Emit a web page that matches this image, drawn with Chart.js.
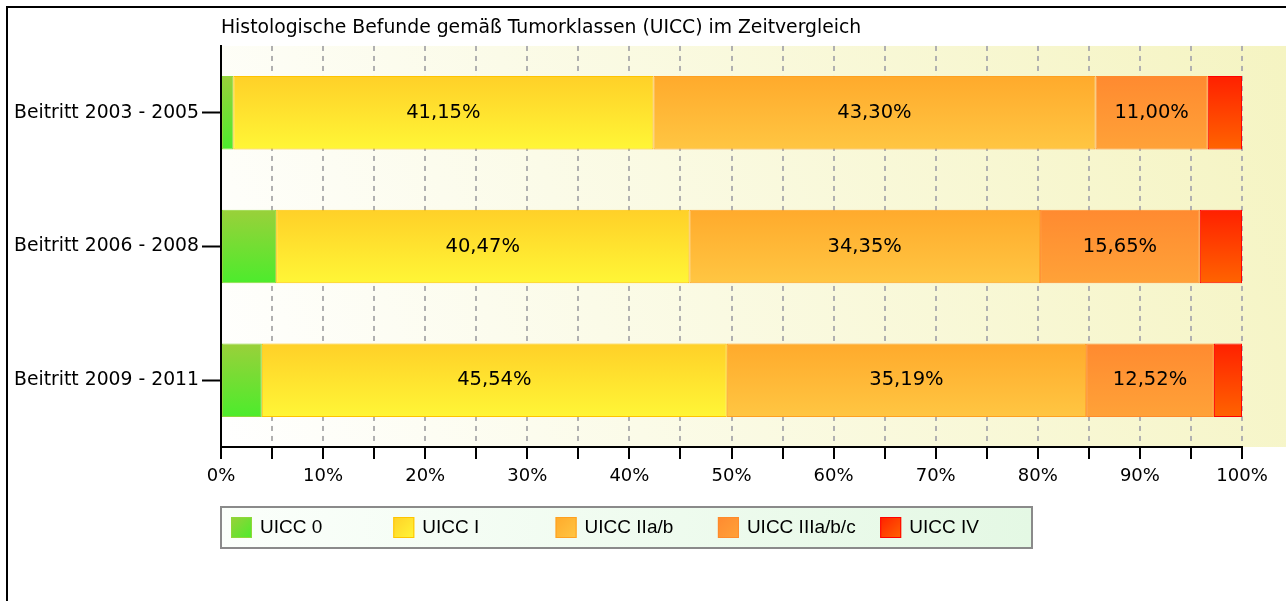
<!DOCTYPE html>
<html>
<head>
<meta charset="utf-8">
<script src="https://cdn.jsdelivr.net/npm/chart.js@4/dist/chart.umd.min.js"></script>
<style>
  html, body { margin: 0; padding: 0; background: #fff; }
  #wrap { position: relative; width: 1286px; height: 601px; overflow: hidden; }
  #frame { position: absolute; left: 6px; top: 6px; right: -10px; bottom: -10px;
           border-top: 2px solid #000; border-left: 2px solid #000; pointer-events: none; }
  canvas { display: block; }
</style>
</head>
<body>
<div id="wrap">
  <canvas id="c" width="1286" height="601"></canvas>
  <div id="frame"></div>
</div>
<script>
// ---- data ----
const titleText = 'Histologische Befunde gemäß Tumorklassen (UICC) im Zeitvergleich';
const categories = ['Beitritt 2003 - 2005', 'Beitritt 2006 - 2008', 'Beitritt 2009 - 2011'];
const seriesNames = ['UICC 0', 'UICC I', 'UICC IIa/b', 'UICC IIIa/b/c', 'UICC IV'];
const uicc0   = [1.20, 5.40, 4.00];
const uicc1   = [41.15, 40.47, 45.54];
const uicc2   = [43.30, 34.35, 35.19];
const uicc3   = [11.00, 15.65, 12.52];
const uicc4   = [3.35, 4.13, 2.75];
const xTickValues = [0, 10, 20, 30, 40, 50, 60, 70, 80, 90, 100];

// ---- styles ----
const topColors    = ['#9ad03a', '#ffd028', '#ffaa2c', '#ff8a30', '#ff2000'];
const bottomColors = ['#4cec2c', '#fff636', '#ffc642', '#ffa238', '#ff6400'];
const borderColors = ['#8fd83a', '#ffc400', '#ffa020', '#ff8a2a', '#ff0000'];
const seriesValues = [uicc0, uicc1, uicc2, uicc3, uicc4];

const BAR_PCT = 0.55;

function barGradient(ctx, i) {
  const chart = ctx.chart;
  const ys = chart.scales && chart.scales.y;
  if (!chart.chartArea || !ys || ctx.dataIndex === undefined) return topColors[i];
  const center = ys.getPixelForValue(ctx.dataIndex);
  const band = (ys.bottom - ys.top) / categories.length;
  const half = band * BAR_PCT / 2;
  const g = chart.ctx.createLinearGradient(0, center - half, 0, center + half);
  g.addColorStop(0, topColors[i]);
  g.addColorStop(1, bottomColors[i]);
  return g;
}

const datasets = seriesNames.map((name, i) => ({
  label: name,
  data: seriesValues[i],
  backgroundColor: (ctx) => barGradient(ctx, i),
  borderColor: borderColors[i],
  borderWidth: 1,
  borderSkipped: false,
  barPercentage: BAR_PCT,
  categoryPercentage: 1.0
}));

const fmt = v => v.toFixed(2).replace('.', ',') + '%';

const bgPlugin = {
  id: 'plotBg',
  beforeDraw(chart) {
    const a = chart.chartArea; const c = chart.ctx;
    const g = c.createLinearGradient(a.left, a.bottom, chart.width, a.top);
    g.addColorStop(0, '#ffffff');
    g.addColorStop(0.35, '#fbfbe8');
    g.addColorStop(1, '#f5f4c2');
    c.save();
    c.fillStyle = g;
    c.fillRect(a.left, a.top, chart.width - a.left, a.bottom - a.top);
    c.restore();
  }
};

const labelPlugin = {
  id: 'valueLabels',
  afterDatasetsDraw(chart) {
    const c = chart.ctx;
    c.save();
    c.font = '19.5px "DejaVu Sans"';
    c.fillStyle = '#000';
    c.textAlign = 'center';
    c.textBaseline = 'middle';
    chart.data.datasets.forEach((ds, di) => {
      const meta = chart.getDatasetMeta(di);
      meta.data.forEach((el, j) => {
        const v = ds.data[j];
        if (v < 10) return;
        c.fillText(fmt(v), (el.x + el.base) / 2, el.y);
      });
    });
    c.restore();
  }
};

const legendPlugin = {
  id: 'boxLegend',
  afterDraw(chart) {
    const a = chart.chartArea; const c = chart.ctx;
    const left = a.left, top = a.bottom + 60, w = 811, h = 41;
    c.save();
    const g = c.createLinearGradient(left, top, left + w, top + h);
    g.addColorStop(0, '#fbfffb');
    g.addColorStop(1, '#e4f8e4');
    c.fillStyle = g;
    c.fillRect(left, top, w, h);
    c.strokeStyle = '#8a8a8a';
    c.lineWidth = 2;
    c.strokeRect(left, top, w, h);
    c.font = '19px "Liberation Sans"';
    c.textBaseline = 'middle';
    c.textAlign = 'left';
    seriesNames.forEach((name, i) => {
      const x = left + 10 + i * 162.3;
      const y = top + 10;
      const sg = c.createLinearGradient(x, y, x + 21, y + 21);
      sg.addColorStop(0, topColors[i]);
      sg.addColorStop(1, bottomColors[i]);
      c.fillStyle = sg;
      c.fillRect(x, y, 21, 21);
      c.strokeStyle = borderColors[i];
      c.lineWidth = 1;
      c.strokeRect(x + 0.5, y + 0.5, 20, 20);
      c.fillStyle = '#000';
      c.fillText(name, x + 29, y + 11);
    });
    c.restore();
  }
};

new Chart(document.getElementById('c'), {
  type: 'bar',
  data: { labels: categories, datasets },
  plugins: [bgPlugin, labelPlugin, legendPlugin],
  options: {
    indexAxis: 'y',
    responsive: false,
    animation: false,
    events: [],
    layout: { padding: { left: 0, right: 44, top: 0, bottom: 0 } },
    plugins: {
      legend: { display: false },
      tooltip: { enabled: false },
      title: {
        display: true,
        text: titleText,
        align: 'start',
        fullSize: false,
        color: '#000',
        font: { family: '"DejaVu Sans"', size: 18.8, weight: 'normal' },
        padding: { top: 17, bottom: 6.4 }
      }
    },
    scales: {
      x: {
        stacked: true,
        min: 0,
        max: 100,
        afterFit(s) { s.height = 154; },
        ticks: {
          stepSize: 5,
          autoSkip: false,
          maxRotation: 0,
          color: '#000',
          padding: 7,
          font: { family: '"DejaVu Sans"', size: 18 },
          callback: v => (xTickValues.includes(v) ? v + '%' : '')
        },
        grid: {
          color: '#b0b0b0',
          lineWidth: 2,
          tickColor: '#000',
          tickWidth: 2,
          tickLength: 12,
          drawTicks: true
        },
        border: { display: true, color: '#000', width: 2, dash: [5, 5] }
      },
      y: {
        stacked: true,
        afterFit(s) { s.width = 221; },
        ticks: {
          color: '#000',
          padding: 3,
          font: { family: '"DejaVu Sans"', size: 18.8 }
        },
        grid: {
          offset: false,
          drawOnChartArea: false,
          drawTicks: true,
          tickLength: 19,
          tickColor: '#000',
          tickWidth: 2
        },
        border: { display: true, color: '#000', width: 2 }
      }
    }
  }
});
</script>
</body>
</html>
